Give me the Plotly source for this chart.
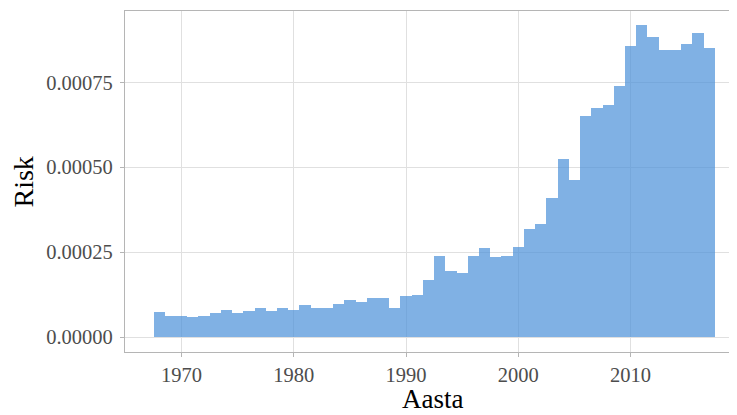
import plotly.graph_objects as go

years = list(range(1968, 2018))
risk = [
    7.44e-5, 6.27e-5, 6.27e-5, 5.80e-5, 6.35e-5, 6.96e-5, 8.10e-5, 6.96e-5, 7.55e-5, 8.60e-5,
    7.55e-5, 8.60e-5, 8.10e-5, 9.60e-5, 8.60e-5, 8.60e-5, 9.70e-5, 1.08e-4, 1.03e-4, 1.14e-4,
    1.14e-4, 8.60e-5, 1.20e-4, 1.24e-4, 1.68e-4, 2.40e-4, 1.94e-4, 1.89e-4, 2.39e-4, 2.61e-4,
    2.35e-4, 2.40e-4, 2.66e-4, 3.18e-4, 3.34e-4, 4.11e-4, 5.24e-4, 4.63e-4, 6.51e-4, 6.75e-4,
    6.84e-4, 7.40e-4, 8.57e-4, 9.18e-4, 8.84e-4, 8.46e-4, 8.46e-4, 8.63e-4, 8.95e-4, 8.51e-4,
]
x_ticks = [1970, 1980, 1990, 2000, 2010]
y_ticks = [0.0, 0.00025, 0.0005, 0.00075]
y_tick_labels = ["0.00000", "0.00025", "0.00050", "0.00075"]
x_title = "Aasta"
y_title = "Risk"

fig = go.Figure(go.Bar(
    x=years, y=risk, width=1.0,
    marker=dict(color="rgba(74,144,217,0.7)", line=dict(width=0)),
))

serif = "Liberation Serif, Times New Roman, serif"
axis_common = dict(
    showgrid=True, gridcolor="#e0e0e0", gridwidth=1.3,
    showline=True, linecolor="#b5b5b5", linewidth=1.3,
    ticks="outside", ticklen=4, tickcolor="#b5b5b5", tickwidth=1.3,
    tickfont=dict(family=serif, size=20.5, color="#4d4d4d"),
    zeroline=False, automargin=False,
)
# the page body has an 8px margin, so the figure is sized to fill the rest
fig.update_layout(
    width=729, height=407,
    margin=dict(l=117, r=0, t=3, b=63),
    paper_bgcolor="white", plot_bgcolor="white",
    bargap=0,
    showlegend=False,
    font=dict(family=serif),
    xaxis=dict(
        range=[1964.96, 2019.48],
        tickvals=x_ticks, ticktext=[str(v) for v in x_ticks],
        mirror=True,
        **axis_common,
    ),
    yaxis=dict(
        range=[-4.38e-5, 9.6e-4],
        tickvals=y_ticks, ticktext=y_tick_labels,
        ticklabelstandoff=3,
        **axis_common,
    ),
    annotations=[
        dict(text=x_title, xref="paper", yref="paper", x=0.503, y=-0.1378,
             xanchor="center", yanchor="middle", showarrow=False,
             font=dict(family=serif, size=27, color="black")),
        dict(text=y_title, xref="paper", yref="paper", x=-0.1650, y=0.497,
             xanchor="center", yanchor="middle", showarrow=False, textangle=-90,
             font=dict(family=serif, size=28, color="black")),
    ],
)

fig.write_html("out.html")
